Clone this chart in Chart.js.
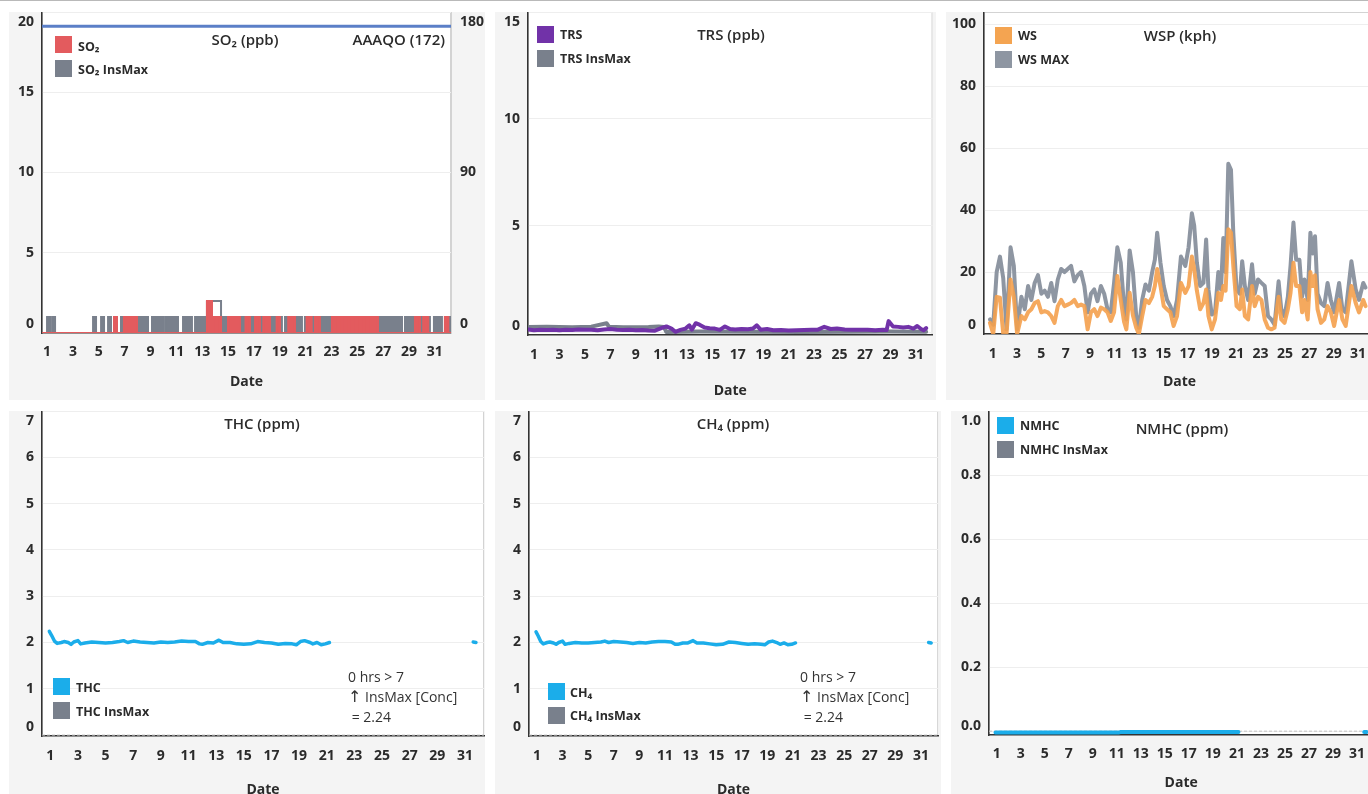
<!DOCTYPE html>
<html>
<head>
<meta charset="utf-8">
<title>Air monitoring - January</title>
<script src="https://cdn.jsdelivr.net/npm/chart.js@4.4.1/dist/chart.umd.min.js"></script>
<style>
  html, body { margin: 0; padding: 0; width: 1368px; height: 794px; overflow: hidden; background: #fff;
    font-family: "Open Sans", sans-serif; color: #2b2b2b; }
  .topline { position: absolute; left: 0; top: 0; width: 1368px; height: 1px; background: #b9b9b9; }
  .panel { position: absolute; background: #f4f4f4; }
  .panel canvas { position: absolute; left: 0; top: 0; }
  .lbl { position: absolute; white-space: nowrap; line-height: 18px; }
  .title { font-size: 15px; font-weight: 600; transform: translateX(-50%); }
  .title.right { transform: translateX(-100%); }
  .leg { font-size: 12.5px; font-weight: 700; }
  .sw { position: absolute; width: 17px; height: 17px; }
  .note { position: absolute; font-size: 14px; line-height: 20px; white-space: nowrap; color: #333; }
  .note .arr { font-family: "DejaVu Sans", sans-serif; font-size: 16px; line-height: 14px; }
</style>
</head>
<body>
<div class="topline"></div>

<div class="panel" style="left:9px;top:12px;width:476px;height:388px"><canvas id="so2" width="476" height="388"></canvas></div>
<div class="panel" style="left:495px;top:12px;width:441px;height:388px"><canvas id="trs" width="441" height="388"></canvas></div>
<div class="panel" style="left:946px;top:12px;width:432px;height:388px"><canvas id="wsp" width="432" height="388"></canvas></div>
<div class="panel" style="left:9px;top:411px;width:476px;height:400px"><canvas id="thc" width="476" height="400"></canvas></div>
<div class="panel" style="left:495px;top:411px;width:446px;height:400px"><canvas id="ch4" width="446" height="400"></canvas></div>
<div class="panel" style="left:951px;top:411px;width:425px;height:400px"><canvas id="nmhc" width="425" height="400"></canvas></div>

<!-- SO2 -->
<div class="sw" style="left:55px;top:36px;background:#e35b5e"></div>
<div class="lbl leg" style="left:78px;top:37.5px">SO₂</div>
<div class="sw" style="left:55px;top:60px;background:#79808c"></div>
<div class="lbl leg" style="left:78px;top:60.5px">SO₂ InsMax</div>
<div class="lbl title" style="left:245px;top:29.5px">SO₂ (ppb)</div>
<div class="lbl title right" style="left:445px;top:29.5px">AAAQO (172)</div>

<!-- TRS -->
<div class="sw" style="left:537px;top:26px;background:#7132a8"></div>
<div class="lbl leg" style="left:560px;top:25.5px">TRS</div>
<div class="sw" style="left:537px;top:50px;background:#79808c"></div>
<div class="lbl leg" style="left:560px;top:49.5px">TRS InsMax</div>
<div class="lbl title" style="left:731px;top:24.5px">TRS (ppb)</div>

<!-- WSP -->
<div class="sw" style="left:995px;top:27px;background:#f4a451"></div>
<div class="lbl leg" style="left:1018px;top:26.5px">WS</div>
<div class="sw" style="left:995px;top:51px;background:#8e96a2"></div>
<div class="lbl leg" style="left:1018px;top:50.5px">WS MAX</div>
<div class="lbl title" style="left:1180px;top:25.5px">WSP (kph)</div>

<!-- THC -->
<div class="lbl title" style="left:262px;top:413.5px">THC (ppm)</div>
<div class="sw" style="left:53px;top:678px;background:#1badea"></div>
<div class="lbl leg" style="left:76px;top:678.5px">THC</div>
<div class="sw" style="left:53px;top:702px;background:#79808c"></div>
<div class="lbl leg" style="left:76px;top:702.5px">THC InsMax</div>
<div class="note" style="left:348px;top:666.6px">0 hrs &gt; 7<br><span class="arr">↑</span> InsMax [Conc]<br>&nbsp;= 2.24</div>

<!-- CH4 -->
<div class="lbl title" style="left:733px;top:413.5px">CH₄ (ppm)</div>
<div class="sw" style="left:548px;top:683px;background:#1badea"></div>
<div class="lbl leg" style="left:570px;top:683.5px">CH₄</div>
<div class="sw" style="left:548px;top:707px;background:#79808c"></div>
<div class="lbl leg" style="left:570px;top:706.5px">CH₄ InsMax</div>
<div class="note" style="left:800px;top:666.6px">0 hrs &gt; 7<br><span class="arr">↑</span> InsMax [Conc]<br>&nbsp;= 2.24</div>

<!-- NMHC -->
<div class="sw" style="left:997px;top:417px;background:#1badea"></div>
<div class="lbl leg" style="left:1020px;top:416.5px">NMHC</div>
<div class="sw" style="left:997px;top:441px;background:#79808c"></div>
<div class="lbl leg" style="left:1020px;top:440.5px">NMHC InsMax</div>
<div class="lbl title" style="left:1182px;top:418.5px">NMHC (ppm)</div>

<script>
// x axis: day of month (continuous), labels on odd days
var dayTicks = [1, 3, 5, 7, 9, 11, 13, 15, 17, 19, 21, 23, 25, 27, 29, 31];

// SO2 (ppb) - step series, value holds from each time until the next
var so2Times = [0.61, 6.18, 6.41, 6.95, 7.96, 13.37, 13.76, 14.0, 14.15, 14.46, 15.0, 15.93, 16.35, 16.7, 17.09, 17.47, 17.73, 18.25, 18.76, 19.02, 19.66, 20.18, 21.08, 21.47, 21.73, 22.11, 23.04, 23.45, 23.6, 24.0, 24.15, 24.55, 24.7, 25.15, 25.3, 25.75, 25.9, 26.6, 29.46, 29.85, 30.1, 30.49, 31.78, 32.04, 32.25];
var so2Vals = [0, 1, 0, 1, 0, 2, 1, 0, 1, 0, 1, 0, 1, 0, 1, 0, 1, 0, 1, 0, 1, 0, 1, 0, 1, 0, 1, 0, 1, 0, 1, 0, 1, 0, 1, 0, 1, 0, 1, 0, 1, 0, 1, 0, 0];
var so2MaxTimes = [0.61, 1.00, 1.23, 1.39, 1.62, 4.56, 4.79, 5.18, 5.41, 5.72, 5.95, 6.18, 6.41, 6.72, 8.81, 9.12, 9.43, 9.58, 9.97, 10.13, 11.13, 11.52, 11.83, 11.98, 12.21, 12.45, 13.37, 14.46, 16.78, 16.93, 19.17, 19.41, 20.72, 20.95, 22.66, 22.81, 28.46, 28.69, 30.62, 30.93, 31.55, 31.78, 32.25];
var so2MaxVals = [0, 1, 0, 1, 0, 1, 0, 1, 0, 1, 0, 1, 0, 1, 0, 1, 0, 1, 0, 1, 0, 1, 0, 1, 0, 1, 2, 1, 0, 1, 0, 1, 0, 1, 0, 1, 0, 1, 0, 1, 0, 1, 1];
var aaaqoTimes = [0.61, 32.25];
var aaaqoVals = [172, 172];
var so2Ticks = [0, 5, 10, 15, 20];
var so2RightTicks = [0, 90, 180];

// TRS (ppb)
var trsTimes = [0.55, 1.0, 1.5, 2.0, 2.5, 3.0, 3.5, 4.0, 4.5, 5.0, 5.5, 6.0, 6.5, 7.0, 7.5, 8.0, 8.5, 9.0, 9.5, 10.0, 10.5, 11.0, 11.4, 11.8, 12.1, 12.5, 12.9, 13.2, 13.4, 13.7, 14.0, 14.4, 14.8, 15.2, 15.6, 16.0, 16.4, 16.8, 17.3, 17.8, 18.2, 18.5, 18.8, 19.3, 19.8, 20.4, 21.0, 21.6, 22.2, 22.8, 23.3, 23.8, 24.3, 24.8, 25.4, 26.0, 26.6, 27.2, 27.8, 28.4, 28.7, 28.85, 29.2, 29.6, 30.0, 30.4, 30.8, 31.1, 31.4, 31.6, 31.8];
var trsVals = [0.16, 0.12, 0.14, 0.13, 0.15, 0.12, 0.14, 0.13, 0.16, 0.14, 0.15, 0.12, 0.16, 0.18, 0.15, 0.13, 0.14, 0.12, 0.13, 0.11, 0.1, 0.22, 0.3, 0.2, 0.05, 0.14, 0.2, 0.35, 0.15, 0.45, 0.38, 0.25, 0.22, 0.2, 0.14, 0.3, 0.18, 0.16, 0.18, 0.17, 0.2, 0.35, 0.15, 0.18, 0.12, 0.13, 0.11, 0.12, 0.13, 0.14, 0.15, 0.28, 0.18, 0.2, 0.16, 0.15, 0.14, 0.15, 0.12, 0.14, 0.13, 0.55, 0.3, 0.28, 0.25, 0.28, 0.2, 0.32, 0.18, 0.12, 0.22];
var trsMaxTimes = [0.55, 2.0, 4.0, 5.5, 6.7, 6.9, 8.0, 10.0, 10.8, 11.2, 11.4, 14.0, 18.0, 22.0, 26.0, 29.0, 31.8];
var trsMaxVals = [0.27, 0.28, 0.26, 0.29, 0.45, 0.28, 0.26, 0.27, 0.3, 0.28, 0.04, 0.06, 0.05, 0.04, 0.05, 0.06, 0.05];
var trsTicks = [0, 5, 10, 15];

// WSP (kph)
var wsTimes = [0.78, 1.05, 1.33, 1.60, 1.87, 2.14, 2.47, 2.74, 3.01, 3.36, 3.64, 3.91, 4.18, 4.45, 4.72, 5.00, 5.27, 5.54, 5.81, 6.08, 6.35, 6.63, 6.90, 7.17, 7.44, 7.71, 7.98, 8.26, 8.53, 8.80, 9.07, 9.34, 9.61, 9.89, 10.16, 10.43, 10.70, 10.97, 11.24, 11.52, 11.79, 11.98, 12.25, 12.52, 12.79, 13.01, 13.28, 13.55, 13.83, 14.10, 14.32, 14.51, 14.78, 15.05, 15.32, 15.59, 15.86, 16.14, 16.46, 16.82, 17.09, 17.36, 17.55, 17.77, 18.04, 18.31, 18.53, 18.72, 18.99, 19.26, 19.53, 19.75, 19.94, 20.13, 20.35, 20.57, 20.76, 21.03, 21.30, 21.49, 21.71, 21.98, 22.30, 22.52, 22.79, 23.07, 23.34, 23.61, 23.88, 24.15, 24.48, 24.70, 24.97, 25.24, 25.46, 25.70, 25.92, 26.19, 26.41, 26.60, 26.87, 27.09, 27.28, 27.47, 27.68, 27.96, 28.23, 28.50, 28.77, 29.04, 29.45, 29.72, 29.99, 30.46, 30.81, 31.08, 31.43, 31.62];
var wsVals = [3.6, 0, 12, 11.7, 0, 0, 17.6, 12, 0, 5.8, 4.7, 7, 8, 10, 10.6, 7, 7.4, 7, 5.8, 3.6, 9, 11, 9, 9.5, 10, 11, 9, 9.5, 9, 1.5, 7, 8, 5.8, 8.5, 8, 7, 4.2, 7, 18.7, 11, 4, 1.5, 13.3, 6, 2, 0, 5.8, 11, 10, 12, 15.5, 21, 15.5, 9, 8, 7, 2.6, 5.8, 16.5, 13.3, 15.5, 25, 21, 14, 8, 10, 14.4, 5.8, 1.5, 4.7, 13.3, 11, 15.5, 14, 33.8, 32.7, 22, 9, 8, 14.4, 5.8, 4.7, 15.5, 9, 12, 11, 4.7, 2, 1.5, 2, 12, 4.7, 3.6, 8, 13.3, 23, 15.5, 15.5, 7, 11, 4.7, 20, 15.5, 19, 8, 3.6, 4.7, 9, 7, 2.6, 11, 4.7, 2.6, 15.5, 10, 7, 11, 9];
var wsMaxVals = [4.7, 3, 20, 25, 18, 1.5, 28, 22, 1.5, 12, 8, 15.5, 11, 16.5, 19, 13, 14, 12, 16.5, 10.6, 17.6, 21, 20, 21, 22, 17, 19, 20, 15.5, 7, 13, 14.4, 10.6, 15.5, 13, 8, 7, 16.5, 28, 23, 9, 4.7, 27, 20, 5.8, 2, 11, 16, 14, 20, 24, 32.7, 23, 15.5, 11, 9, 5.8, 11, 25, 22, 28, 39, 35, 23, 15.5, 16.5, 30.5, 14.4, 6.3, 7, 20, 14.4, 31, 20, 55, 53, 32.7, 14.4, 13, 23.5, 15.5, 11, 22.5, 13, 17.6, 16.5, 15.5, 5.8, 4.7, 3, 17, 8, 5.8, 12, 22, 36, 24, 24, 12, 17.6, 11, 32.7, 26, 31.6, 13, 10, 9, 16.5, 11, 7, 16.5, 8, 7, 23.5, 14.4, 11, 16.5, 15];
var wsTicks = [0, 20, 40, 60, 80, 100];

// THC / CH4 (ppm) - no data from day 21 to 31
var hcTimes = [0.93, 1.1, 1.3, 1.5, 1.8, 2.0, 2.3, 2.5, 2.7, 3.0, 3.2, 3.5, 4.0, 4.5, 5.0, 5.5, 6.0, 6.3, 6.6, 7.0, 7.5, 8.0, 8.5, 9.0, 9.5, 10.0, 10.5, 11.0, 11.5, 11.8, 12.0, 12.4, 12.8, 13.2, 13.5, 14.0, 14.5, 15.0, 15.5, 16.0, 16.5, 17.0, 17.5, 18.0, 18.5, 18.8, 19.1, 19.4, 19.8, 20.0, 20.3, 20.6, 20.9, 21.2, 26.0, 31.6, 31.8];
var thcVals = [2.24, 2.15, 2.03, 1.98, 2.0, 2.02, 2.0, 1.96, 2.01, 2.04, 1.97, 1.99, 2.01, 2.0, 1.99, 2.0, 2.02, 2.04, 2.0, 2.03, 2.01, 2.0, 1.99, 2.01, 2.0, 2.01, 2.03, 2.02, 2.02, 1.97, 1.96, 2.0, 1.99, 2.05, 2.0, 2.0, 1.97, 1.96, 1.97, 2.02, 2.0, 1.99, 1.96, 1.98, 1.97, 1.95, 2.02, 2.04, 2.0, 1.97, 2.0, 1.95, 1.97, 2.0, null, 2.01, 2.0];
var ch4Vals = [2.23, 2.14, 2.02, 1.97, 2.0, 2.01, 1.99, 1.96, 2.0, 2.03, 1.96, 1.98, 2.0, 1.99, 1.99, 2.0, 2.01, 2.03, 2.0, 2.02, 2.01, 2.0, 1.98, 2.0, 1.99, 2.01, 2.02, 2.02, 2.01, 1.96, 1.96, 1.99, 1.99, 2.04, 1.99, 1.99, 1.97, 1.95, 1.96, 2.01, 2.0, 1.98, 1.96, 1.97, 1.96, 1.95, 2.01, 2.03, 1.99, 1.96, 1.99, 1.95, 1.96, 1.99, null, 2.0, 1.99];
var hcTicks = [0, 1, 2, 3, 4, 5, 6, 7];

// NMHC (ppm)
var nmhcTimes = [0.9, 3.0, 6.0, 9.0, 11.2, 11.3, 14.0, 17.0, 21.13, 26.0, 31.6, 31.8];
var nmhcVals = [-0.004, -0.004, -0.004, -0.004, -0.004, -0.003, -0.003, -0.003, -0.003, null, -0.003, -0.003];
var nmhcTicks = [0, 0.2, 0.4, 0.6, 0.8, 1.0];

var RED = '#e35b5e', GRAY = '#79808c', PURPLE = '#7132a8', ORANGE = 'rgba(244,160,76,0.9)', WSGRAY = '#8e96a2', BLUE = '#1badea';
var TICK_FONT = {size: 14, weight: 'bold'};

Chart.defaults.font.family = '"Open Sans", sans-serif';
Chart.defaults.color = '#2b2b2b';

function pts(times, vals) {
  return times.map(function (t, i) { return {x: t, y: vals[i]}; });
}

function line(data, color, width, extra) {
  var ds = {data: data, borderColor: color, borderWidth: width, pointRadius: 0, tension: 0,
    borderJoinStyle: 'round', borderCapStyle: 'round', fill: false, spanGaps: false};
  for (var k in extra) ds[k] = extra[k];
  return ds;
}

// white plot area with a light frame, like the dashboard
var plotFrame = {
  id: 'plotFrame',
  beforeDraw: function (chart) {
    var ctx = chart.ctx, a = chart.chartArea;
    ctx.save();
    ctx.fillStyle = '#fff';
    ctx.fillRect(a.left, a.top, a.right - a.left, a.bottom - a.top);
    ctx.strokeStyle = '#d3d3d3';
    ctx.lineWidth = 1;
    ctx.strokeRect(a.left + 0.5, a.top + 0.5, a.right - a.left - 1, a.bottom - a.top - 1);
    ctx.restore();
  }
};

// y tick labels, kept inside the plot height at the ends
var edgeTicks = {
  id: 'edgeTicks',
  afterDraw: function (chart) {
    var ctx = chart.ctx, a = chart.chartArea;
    ctx.save();
    ctx.font = 'bold 14px "Open Sans", sans-serif';
    ctx.fillStyle = '#2b2b2b';
    ctx.textBaseline = 'middle';
    Object.keys(chart.scales).forEach(function (id) {
      var s = chart.scales[id];
      if (s.axis !== 'y') return;
      var left = s.position === 'left';
      ctx.textAlign = left ? 'right' : 'left';
      s.ticks.forEach(function (t) {
        var y = s.getPixelForValue(t.value);
        y = Math.min(Math.max(y, a.top + 10), a.bottom - 9);
        ctx.fillText(t.label, left ? s.right - 8 : s.left + 9, y);
      });
    });
    ctx.restore();
  }
};
Chart.register(plotFrame, edgeTicks);

function yAxis(o, ticks, pos, width, fmt) {
  return {
    type: 'linear', position: pos, min: o.min, max: o.max,
    afterBuildTicks: function (s) { s.ticks = ticks.map(function (v) { return {value: v}; }); },
    afterFit: function (s) { s.width = width; },
    grid: {color: '#eeeeee', drawTicks: false, drawOnChartArea: pos === 'left'},
    border: {color: pos === 'left' ? '#333' : '#d3d3d3', width: pos === 'left' ? 1.5 : 1},
    ticks: {display: false, callback: fmt || function (v) { return String(v); }}
  };
}

function makePanel(id, o) {
  var scales = {
    x: {
      type: 'linear', min: o.xMin, max: o.xMax,
      afterBuildTicks: function (s) { s.ticks = dayTicks.map(function (v) { return {value: v}; }); },
      afterFit: function (s) { s.height = o.xH; },
      grid: {display: false, drawTicks: false},
      border: {color: '#333', width: 1.5},
      ticks: {padding: o.tickPad, color: '#2b2b2b', font: TICK_FONT, maxRotation: 0, autoSkip: false},
      title: {display: true, text: 'Date', color: '#2b2b2b', font: TICK_FONT, padding: {top: 0, bottom: o.titlePad}}
    },
    y: yAxis({min: o.yMin, max: o.yMax}, o.yTicks, 'left', o.yW, o.fmt)
  };
  if (o.y2) scales.y2 = yAxis(o.y2, o.y2.ticks, 'right', o.y2.width);
  return new Chart(document.getElementById(id), {
    type: 'line',
    data: {datasets: o.datasets},
    options: {
      responsive: false, animation: false, events: [],
      layout: {padding: {top: 0, left: 0, bottom: 0, right: o.padR || 0}},
      plugins: {legend: {display: false}, tooltip: {enabled: false}},
      scales: scales
    }
  });
}

function zeroLine(xMin, xMax) {
  return line([{x: xMin, y: 0}, {x: xMax, y: 0}], '#c4c4c4', 1, {borderDash: [3, 2], borderCapStyle: 'butt'});
}

// hourly SO2 toggles so fast they read as solid blocks: fill under the steps,
// but leave the short 2 ppb plateau as an outline
function stepBlock(color) {
  return {
    stepped: true, fill: 'origin', backgroundColor: color, borderJoinStyle: 'miter', borderCapStyle: 'butt',
    segment: {backgroundColor: function (c) { return c.p0.parsed.y > 1 ? 'rgba(0,0,0,0)' : undefined; }}
  };
}

makePanel('so2', {
  xMin: 0.61, xMax: 32.25, xH: 67, tickPad: 11, titlePad: 9.6,
  yMin: 0, yMax: 20, yTicks: so2Ticks, yW: 33,
  y2: {min: 0, max: 180, ticks: so2RightTicks, width: 34},
  datasets: [
    line(pts(so2Times, so2Vals), RED, 2, {stepped: true, fill: 'origin', backgroundColor: RED, borderJoinStyle: 'miter', borderCapStyle: 'butt'}),
    line(pts(so2MaxTimes, so2MaxVals), GRAY, 2, stepBlock(GRAY)),
    line(pts(aaaqoTimes, aaaqoVals), '#5b7fc7', 3, {yAxisID: 'y2', borderCapStyle: 'butt'})
  ]
});

makePanel('trs', {
  xMin: 0.53, xMax: 32.3, xH: 65, tickPad: 12, titlePad: 0.6, padR: 1,
  yMin: -0.1, yMax: 15, yTicks: trsTicks, yW: 33,
  datasets: [
    line(pts(trsTimes, trsVals), PURPLE, 4),
    line(pts(trsMaxTimes, trsMaxVals), GRAY, 4)
  ]
});

makePanel('wsp', {
  xMin: 0.29, xMax: 32.4, xH: 66, tickPad: 12, titlePad: 9.6,
  yMin: 0, yMax: 104, yTicks: wsTicks, yW: 38,
  datasets: [
    line(pts(wsTimes, wsVals), ORANGE, 4),
    line(pts(wsTimes, wsMaxVals), WSGRAY, 4)
  ]
});

makePanel('thc', {
  xMin: 0.40, xMax: 32.38, xH: 75, tickPad: 12, titlePad: 12.6, padR: 1,
  yMin: -0.02, yMax: 7, yTicks: hcTicks, yW: 33,
  datasets: [
    line(pts(hcTimes, thcVals), BLUE, 3.5),
    zeroLine(0.40, 32.38)
  ]
});

makePanel('ch4', {
  xMin: 0.38, xMax: 32.34, xH: 75, tickPad: 12, titlePad: 12.6, padR: 1,
  yMin: -0.02, yMax: 7, yTicks: hcTicks, yW: 34,
  datasets: [
    line(pts(hcTimes, ch4Vals), BLUE, 3.5),
    zeroLine(0.38, 32.34)
  ]
});

makePanel('nmhc', {
  xMin: 0.36, xMax: 32.36, xH: 76, tickPad: 11, titlePad: 19.6,
  yMin: -0.012, yMax: 1.0, yTicks: nmhcTicks, yW: 38,
  fmt: function (v) { return v.toFixed(1); },
  datasets: [
    line(pts(nmhcTimes, nmhcVals), BLUE, 4),
    zeroLine(0.36, 32.36)
  ]
});
</script>
</body>
</html>
